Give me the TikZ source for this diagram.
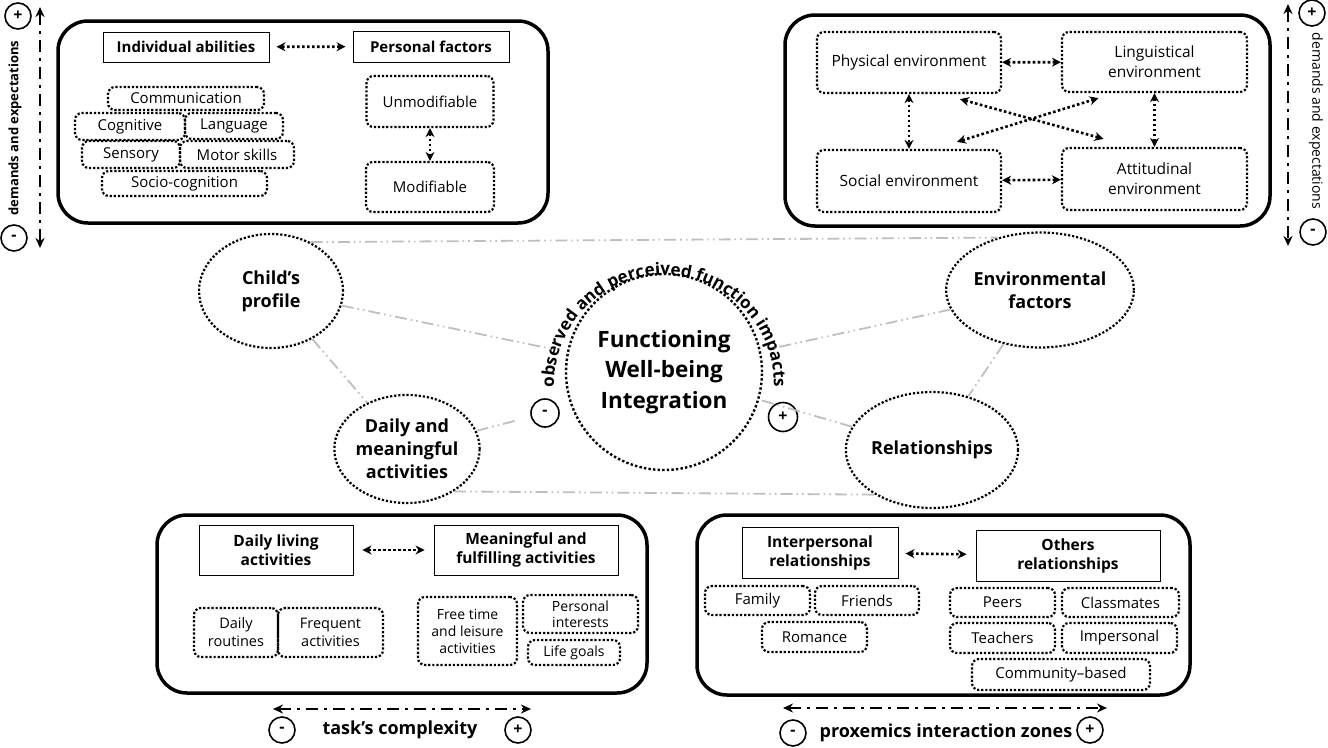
\documentclass[tikz,border=0pt]{standalone}
\usepackage{fontspec}
\setmainfont{Open Sans}
\usetikzlibrary{arrows.meta,shapes.geometric,decorations.text}
\begin{document}
\begin{tikzpicture}[x=1pt,y=-1pt,
 every node/.style={font=\fontsize{15}{18}\selectfont, inner sep=0pt, align=center},
 bigbox/.style={draw, line width=3.5pt, rounded corners=30pt},
 hdr/.style={draw, line width=0.9pt, font=\bfseries\fontsize{15}{19}\selectfont},
 dbox/.style={draw, line width=2.2pt, dash pattern=on 2.2pt off 1.9pt, rounded corners=7pt},
 dell/.style={ellipse, draw, line width=2.2pt, dash pattern=on 2.2pt off 1.9pt, font=\bfseries\fontsize{18}{23}\selectfont},
 darr/.style={line width=2.6pt, dash pattern=on 2.6pt off 2.4pt, {Stealth[length=9pt,width=9pt]}-{Stealth[length=9pt,width=9pt]}},
 glink/.style={draw=black!25, line width=1.8pt, dash pattern=on 12pt off 4pt on 1.6pt off 4pt on 1.6pt off 4pt},
 axisarr/.style={line width=2.6pt, dash pattern=on 12pt off 6pt on 3pt off 6pt, {Stealth[length=10pt,width=9pt]}-{Stealth[length=10pt,width=9pt]}},
 pm/.style={circle, draw, line width=1.6pt, minimum size=26pt, font=\bfseries\fontsize{16}{16}\selectfont},
]
\useasboundingbox (0,0) rectangle (1328,747);

% ---------- top-left box ----------
\node[bigbox, minimum width=490pt, minimum height=202pt] (tl) at (303,122) {};
\node[hdr, minimum width=166pt, minimum height=30pt] (ia) at (186,47) {Individual abilities};
\node[hdr, minimum width=156pt, minimum height=31pt] (pf) at (431,46.5) {Personal factors};
\draw[darr, shorten <=7pt, shorten >=7pt] (ia) -- (pf);
\node[dbox, minimum width=156pt, minimum height=23pt] (comm) at (186,98.5) {Communication};
\node[dbox, minimum width=110pt, minimum height=27pt] (cog) at (130,126.5) {Cognitive};
\node[dbox, minimum width=98pt, minimum height=26pt] (lang) at (234,126) {Language};
\node[dbox, minimum width=98pt, minimum height=27pt] (sens) at (131,154.5) {Sensory};
\node[dbox, minimum width=114pt, minimum height=27pt] (motor) at (237,154.5) {Motor skills};
\node[dbox, minimum width=165pt, minimum height=25pt] (socio) at (184.5,183.5) {Socio-cognition};
\node[dbox, minimum width=127pt, minimum height=51pt] (unmod) at (430,101.5) {Unmodifiable};
\node[dbox, minimum width=128pt, minimum height=50pt] (mod) at (430,187) {Modifiable};
\draw[darr] (unmod) -- (mod);

% ---------- top-right box ----------
\node[bigbox, minimum width=485pt, minimum height=211pt] (tr) at (1027.5,120.5) {};
\node[dbox, minimum width=184pt, minimum height=61pt, font=\fontsize{15.5}{20}\selectfont] (phys) at (909,62.5) {Physical environment};
\node[dbox, minimum width=185pt, minimum height=60pt, font=\fontsize{15.5}{20}\selectfont] (ling) at (1154.5,62) {Linguistical\\environment};
\node[dbox, minimum width=184pt, minimum height=62pt, font=\fontsize{15.5}{20}\selectfont] (soc) at (909,181) {Social environment};
\node[dbox, minimum width=185pt, minimum height=62pt, font=\fontsize{15.5}{20}\selectfont] (att) at (1154.5,179) {Attitudinal\\environment};
\draw[darr] (phys) -- (ling);
\draw[darr] (soc) -- (att);
\draw[darr] (phys) -- (soc);
\draw[darr] (ling) -- (att);
\draw[darr] ([xshift=51pt,yshift=-5pt]phys.south) -- ([xshift=-51pt,yshift=8pt]att.north);
\draw[darr] ([xshift=48pt,yshift=7pt]soc.north) -- ([xshift=-56pt,yshift=-5pt]ling.south);

% ---------- side axes ----------
\node[pm] (lplus) at (18,16) {+};
\node[pm] (lminus) at (14,238) {-};
\coordinate (la1) at (40,7);
\coordinate (la2) at (40,248);
\draw[axisarr] (la1) -- (la2);
\node[rotate=90, font=\bfseries\fontsize{13}{13}\selectfont] (ldem) at (15,128) {demands and expectations};

\node[pm] (rplus) at (1312,13) {+};
\node[pm] (rminus) at (1313,232) {-};
\coordinate (ra1) at (1288,4);
\coordinate (ra2) at (1288,246);
\draw[axisarr] (ra1) -- (ra2);
\node[rotate=-90, font=\fontsize{14}{14}\selectfont] (rdem) at (1316,121) {demands and expectations};

% ---------- centre ----------
\node[circle, draw, line width=2.4pt, dash pattern=on 2.4pt off 2.2pt, minimum size=196pt, font=\bfseries\fontsize{22.5}{30.5}\selectfont] (ctr) at (664,372) {Functioning\\Well-being\\Integration};
\path[decorate, decoration={text along path, text align=center,
  text={|\bfseries\fontsize{17}{17}\selectfont|observed and perceived function impacts}}]
  (ctr.center) ++(0,13) ++(183:110pt) arc[start angle=183, end angle=-3, radius=110pt];
\node[pm, minimum size=28pt] (cminus) at (545,413) {-};
\node[pm, minimum size=29pt] (cplus) at (783,417) {+};

% ---------- ellipses ----------
\node[dell, minimum width=144pt, minimum height=114pt] (child) at (271,291) {Child’s\\profile};
\node[dell, minimum width=142pt, minimum height=108pt] (daily) at (407,449) {Daily and\\meaningful\\activities};
\node[dell, minimum width=140pt, minimum height=115pt] (env) at (1040,290) {Environmental\\factors};
\node[dell, minimum width=142pt, minimum height=116pt] (rel) at (932,450) {Relationships};

\draw[glink] (child.51) -- (env.129);
\draw[glink, shorten >=16pt] (child) -- (ctr);
\draw[glink] (child) -- (daily);
\draw[glink, shorten >=14pt] (daily) -- (cminus);
\draw[glink, shorten >=14pt] (env) -- (ctr);
\draw[glink] (rel) -- (ctr);
\draw[glink] (env) -- (rel);
\draw[glink] (daily.-42) -- (rel.218);

% ---------- bottom-left box ----------
\node[bigbox, minimum width=490pt, minimum height=178pt] (bl) at (402,604) {};
\node[hdr, minimum width=154pt, minimum height=50pt, font=\bfseries\fontsize{15.5}{19}\selectfont] (dla) at (276,550) {Daily living\\activities};
\node[hdr, minimum width=184pt, minimum height=50pt, font=\bfseries\fontsize{15.5}{19}\selectfont] (mfa) at (526,550) {Meaningful and\\fulfilling activities};
\draw[darr, shorten <=9pt, shorten >=9pt] (dla) -- (mfa);
\node[dbox, minimum width=84pt, minimum height=49pt, font=\fontsize{14.5}{18}\selectfont] (drout) at (236,632.5) {Daily\\routines};
\node[dbox, minimum width=105pt, minimum height=49pt, font=\fontsize{14.5}{18}\selectfont] (freq) at (330.5,632.5) {Frequent\\activities};
\node[dbox, minimum width=99pt, minimum height=68pt, font=\fontsize{14}{17}\selectfont] (free) at (467.5,631) {Free time\\and leisure\\activities};
\node[dbox, minimum width=115pt, minimum height=38pt, font=\fontsize{14}{16}\selectfont] (pint) at (580.5,614) {Personal\\interests};
\node[dbox, minimum width=92pt, minimum height=25pt, font=\fontsize{14}{16}\selectfont] (life) at (574,652.5) {Life goals};
\coordinate (ba1) at (273,709);
\coordinate (ba2) at (531,709);
\draw[axisarr] (ba1) -- (ba2);
\node[pm] (bminus) at (282,730) {-};
\node[pm] (bplus) at (518,730) {+};
\node[font=\bfseries\fontsize{18}{18}\selectfont] (task) at (400,730) {task’s complexity};

% ---------- bottom-right box ----------
\node[bigbox, minimum width=493pt, minimum height=180pt] (br) at (943.5,605) {};
\node[hdr, minimum width=156pt, minimum height=51pt, font=\bfseries\fontsize{15.5}{19}\selectfont] (ip) at (820,552.5) {Interpersonal\\relationships};
\node[hdr, minimum width=184pt, minimum height=51pt, font=\bfseries\fontsize{15.5}{19}\selectfont] (orl) at (1068,555.5) {Others\\relationships};
\draw[darr, shorten <=7pt, shorten >=9pt] (ip) -- (orl);
\node[dbox, minimum width=105pt, minimum height=29pt] (fam) at (757.5,600.5) {Family};
\node[dbox, minimum width=104pt, minimum height=29pt] (fri) at (867,600.5) {Friends};
\node[dbox, minimum width=105pt, minimum height=30pt] (rom) at (814.5,637) {Romance};
\node[dbox, minimum width=105pt, minimum height=29pt] (peer) at (1002.5,602.5) {Peers};
\node[dbox, minimum width=117pt, minimum height=29pt] (clas) at (1120.5,602.5) {Classmates};
\node[dbox, minimum width=105pt, minimum height=30pt] (teach) at (1002.5,638) {Teachers};
\node[dbox, minimum width=115pt, minimum height=30pt] (imp) at (1119.5,638) {Impersonal};
\node[dbox, minimum width=178pt, minimum height=31pt] (cb) at (1061,674.5) {Community–based};
\coordinate (rb1) at (783,708);
\coordinate (rb2) at (1107,708);
\draw[axisarr] (rb1) -- (rb2);
\node[pm] (rbminus) at (793,733) {-};
\node[pm] (rbplus) at (1090,730) {+};
\node[font=\bfseries\fontsize{18}{18}\selectfont] (prox) at (946,733) {proxemics interaction zones};
\end{tikzpicture}
\end{document}
